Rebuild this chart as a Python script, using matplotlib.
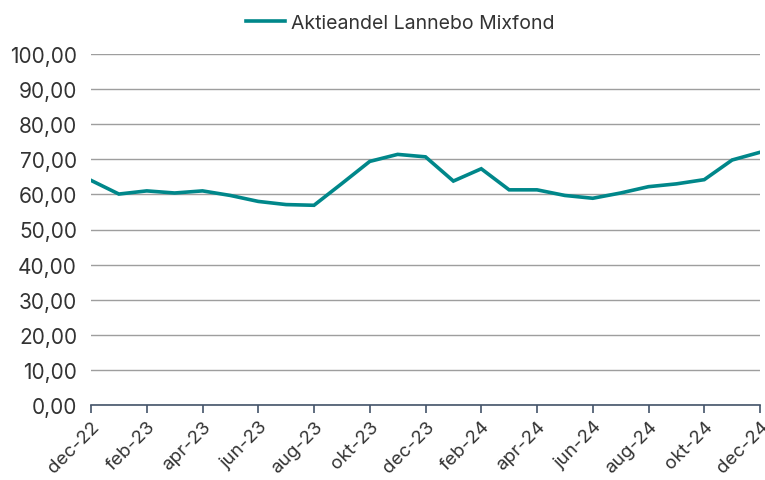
import matplotlib
matplotlib.use("Agg")
import matplotlib.pyplot as plt

months = ["dec-22", "jan-23", "feb-23", "mar-23", "apr-23", "maj-23", "jun-23",
          "jul-23", "aug-23", "sep-23", "okt-23", "nov-23", "dec-23",
          "jan-24", "feb-24", "mar-24", "apr-24", "maj-24", "jun-24",
          "jul-24", "aug-24", "sep-24", "okt-24", "nov-24", "dec-24"]
aktieandel = [64.0, 60.1, 61.0, 60.4, 61.0, 59.7, 58.0, 57.1, 56.9, 63.1, 69.4,
              71.4, 70.7, 63.8, 67.3, 61.3, 61.3, 59.7, 58.9, 60.4, 62.2, 63.0,
              64.2, 69.8, 72.0]
y_ticks = [0, 10, 20, 30, 40, 50, 60, 70, 80, 90, 100]

plt.rcParams["font.family"] = ["Inter", "DejaVu Sans"]
text_color = "#333333"
line_color = "#00878a"

fig = plt.figure(figsize=(7.65, 4.81), dpi=100)
ax = fig.add_axes([91 / 765, 1 - 406 / 481, (760 - 91) / 765, (406 - 55) / 481])

x = list(range(len(months)))
ax.plot(x, aktieandel, color=line_color, lw=2.6, label="Aktieandel Lannebo Mixfond",
        solid_joinstyle="miter", zorder=3)

ax.set_xlim(0, len(months) - 1)
ax.set_ylim(0, 100)
ax.set_yticks(y_ticks)
ax.set_yticklabels([f"{v:.2f}".replace(".", ",") for v in y_ticks])
ax.grid(axis="y", color="#9e9e9e", lw=1)
ax.set_axisbelow(True)

ax.set_xticks(x[::2])
ax.set_xticklabels(months[::2], rotation=45, ha="right", rotation_mode="anchor")

for s in ["top", "right", "left"]:
    ax.spines[s].set_visible(False)
ax.spines["bottom"].set_color("#44546a")
ax.spines["bottom"].set_linewidth(1.2)
ax.tick_params(axis="x", colors="#44546a", length=6, width=1.2, labelcolor=text_color,
               labelsize=13.5, pad=3)
ax.tick_params(axis="y", length=0, labelcolor=text_color, labelsize=15, pad=10)

fig.legend(loc="upper center", bbox_to_anchor=(0.523, 1.005), frameon=False,
           fontsize=14, handlelength=2.0, handletextpad=0.3, labelcolor=text_color)

fig.savefig("out.png", dpi=100)
